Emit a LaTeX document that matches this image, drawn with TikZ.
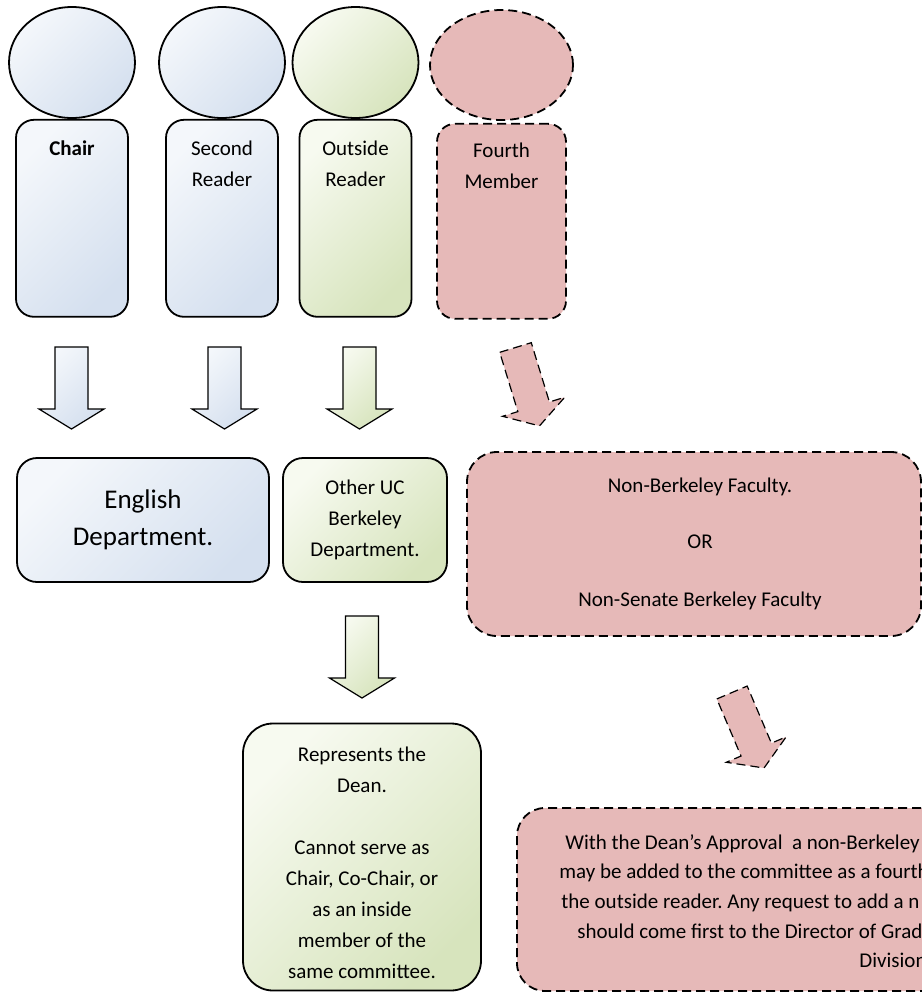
\documentclass[tikz,border=0pt]{standalone}
\usepackage{fontspec}
\setmainfont{Carlito}
\usetikzlibrary{shapes.geometric,positioning,calc}
\frenchspacing

\definecolor{bluelight}{HTML}{F4F7FB}
\definecolor{bluedark}{HTML}{D5E0EF}
\definecolor{greenlight}{HTML}{F7FAF0}
\definecolor{greendark}{HTML}{D7E4BD}
\definecolor{rose}{HTML}{E6B9B8}

% block arrow: options, top of shaft, angle
\newcommand\blockarrow[3][]{%
  \path[#1, shift={#2}, rotate=#3]
    (-16.5,0) -- (16.5,0) -- (16.5,62) -- (32.5,62) -- (0,82)
    -- (-32.5,62) -- (-16.5,62) -- cycle;}

\begin{document}
\begin{tikzpicture}[
  x=0.5pt, y=-0.5pt,
  outline/.style={draw=black, line width=0.9pt},
  bluefill/.style={top color=bluelight, bottom color=bluedark, shading angle=45},
  greenfill/.style={top color=greenlight, bottom color=greendark, shading angle=45},
  rosefill/.style={fill=rose, dash pattern=on 4.5pt off 2.5pt},
  head/.style={outline, ellipse, inner sep=0pt, minimum width=63pt, minimum height=55.5pt},
  body/.style={outline, rectangle, rounded corners=9pt, inner sep=0pt,
    minimum width=56pt, minimum height=98.5pt},
  dept/.style={outline, rectangle, rounded corners=10pt, inner sep=0pt,
    minimum height=62pt, align=center},
  note/.style={outline, rectangle, rounded corners=15pt, inner sep=0pt},
  txt/.style={inner sep=0pt, align=center, font=\fontsize{10.5}{15.5}\selectfont},
  arr/.style={draw=black, line width=0.6pt}
]
  \useasboundingbox (0,0) rectangle (922,992);
  \clip (0,0) rectangle (922,992);

  % committee members
  \node[head, bluefill] (chairhead) at (72,62.5) {};
  \node[body, bluefill, below=0pt of chairhead] (chair) {};
  \node[head, bluefill] (secondhead) at (222,62.5) {};
  \node[body, bluefill, below=0pt of secondhead] (second) {};
  \node[head, greenfill] (outsidehead) at (355.5,62.5) {};
  \node[body, greenfill, below=0pt of outsidehead] (outside) {};
  \node[head, rosefill, minimum width=71.5pt, minimum height=55pt] (fourthhead) at (501.5,65) {};
  \node[body, rosefill, minimum width=64.5pt, minimum height=97.5pt,
    below=1pt of fourthhead] (fourth) {};

  \node[txt, anchor=north] (chairtxt) at ($(chair.north)+(0,21.5)$) {\bfseries Chair};
  \node[txt, anchor=north] (secondtxt) at ($(second.north)+(0,21.5)$) {Second\\Reader};
  \node[txt, anchor=north] (outsidetxt) at ($(outside.north)+(0,21.5)$) {Outside\\Reader};
  \node[txt, anchor=north] (fourthtxt) at ($(fourth.north)+(0,19.5)$) {Fourth\\Member};

  % where they come from
  \node[dept, bluefill, minimum width=126pt, font=\fontsize{13.5}{18.5}\selectfont]
    (english) at (143,520) {English\\Department.};
  \node[dept, greenfill, minimum width=82pt, font=\fontsize{10.5}{15.5}\selectfont]
    (other) at (365,520) {Other UC\\Berkeley\\Department.};
  \node[note, rosefill, minimum width=227pt, minimum height=92pt] (nonbk) at (694,544) {};
  \node[txt, xshift=3pt] (nonbktxt) at (nonbk.center)
    {Non-Berkeley Faculty.\\[12.5pt]OR\\[13.5pt]Non-Senate Berkeley Faculty};

  % notes
  \node[note, greenfill, minimum width=119pt, minimum height=133.5pt] (dean) at (362,857) {};
  \node[txt, anchor=north] (deantxt) at ($(dean.north)+(0,23.5)$)
    {Represents the\\Dean.\\[15.5pt]Cannot serve as\\Chair, Co-Chair, or\\as an inside\\member of the\\same committee.};
  \node[note, rosefill, rounded corners=14pt, minimum width=265pt, minimum height=91.5pt]
    (approval) at (782,899.5) {};
  \foreach \x/\y/\t [count=\i] in {
      565/849/{With the Dean’s Approval~ a non-Berkeley},
      559/878/{may be added to the committee as a fourth},
      561/908/{the outside reader. Any request to add a n},
      577/938/{should come first to the Director of Grad},
      859/967/{Division}}
    \node[txt, anchor=base west] (approval\i) at (\x,\y) {\t};

  % block arrows
  \blockarrow[arr, bluefill]{(71.5,347)}{0}
  \blockarrow[arr, bluefill]{(224.5,347)}{0}
  \blockarrow[arr, greenfill]{(359.5,347)}{0}
  \blockarrow[arr, greenfill]{(362,616)}{0}
  \blockarrow[arr, rosefill]{(515.5,347.5)}{17}
  \blockarrow[arr, rosefill]{(732,692.5)}{23}
\end{tikzpicture}
\end{document}
